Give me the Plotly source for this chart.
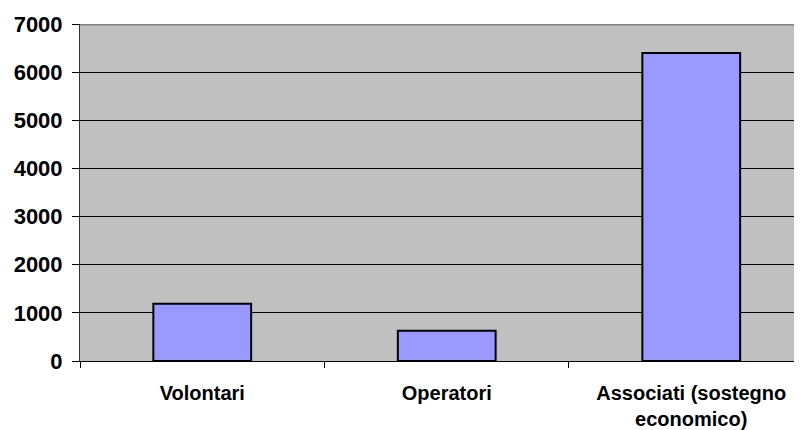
import plotly.graph_objects as go

categories = ["Volontari", "Operatori", "Associati (sostegno<br>economico)"]
values = [1190, 630, 6400]
y_ticks = [0, 1000, 2000, 3000, 4000, 5000, 6000, 7000]

font_name = "Liberation Sans, Arial, sans-serif"

fig = go.Figure()
fig.add_trace(go.Bar(
    x=categories,
    y=values,
    width=0.4,
    marker=dict(color="#9999ff", line=dict(color="black", width=2)),
))

# the page body adds an 8px offset, so the figure is sized to fit the window
fig.update_layout(
    width=794,
    height=422,
    margin=dict(l=72, r=0, t=16, b=69),
    paper_bgcolor="white",
    plot_bgcolor="#c0c0c0",
    showlegend=False,
)

fig.update_xaxes(
    range=[-0.5, 2.453],
    automargin=False,
    showgrid=False,
    showline=True,
    linecolor="black",
    linewidth=1,
    ticks="outside",
    tickson="boundaries",
    ticklen=6,
    tickcolor="black",
    ticklabelstandoff=14,
    tickfont=dict(family=font_name, size=20, color="black", weight="bold"),
    fixedrange=True,
)

fig.update_yaxes(
    range=[0, 7000],
    automargin=False,
    tickvals=y_ticks,
    showgrid=True,
    gridcolor="black",
    gridwidth=1,
    zeroline=False,
    showline=True,
    linecolor="#333333",
    linewidth=1,
    ticks="outside",
    ticklen=7,
    tickcolor="black",
    ticklabelstandoff=5,
    tickfont=dict(family=font_name, size=22, color="black", weight="bold"),
)

# top border of the plot area (gray, like the original)
fig.add_shape(type="line", xref="paper", yref="y", x0=0, x1=1, y0=7000, y1=7000,
              line=dict(color="#808080", width=3))

fig.write_html("out.html")
